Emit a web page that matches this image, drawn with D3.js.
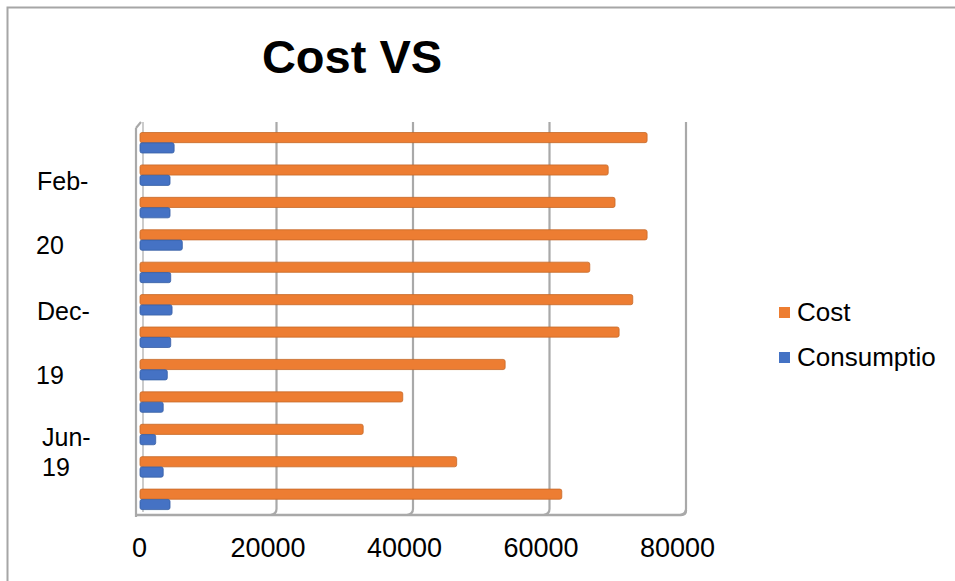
<!DOCTYPE html>
<html>
<head>
<meta charset="utf-8">
<script src="https://cdn.jsdelivr.net/npm/d3@7/dist/d3.min.js"></script>
<style>
  html, body { margin: 0; padding: 0; background: #fff; }
  svg { display: block; font-family: "Liberation Sans", Arial, sans-serif; }
</style>
</head>
<body>
<svg id="chart" width="955" height="581"></svg>
<script>
// Rows in chronological order (first row is drawn at the bottom)
const rowIndex = d3.range(12);
const costValues = [61800, 46400, 32700, 38500, 53500, 70200, 72200, 65900, 74300, 69600, 68600, 74300];
const consumptionValues = [4400, 3400, 2300, 3400, 4000, 4500, 4700, 4500, 6200, 4400, 4400, 5000];
const seriesNames = ["Cost", "Consumptio"];
const seriesColors = ["#ED7D31", "#4472C4"];
const xTicks = [0, 20000, 40000, 60000, 80000];
// Only some rows carry a (wrapped) label on the category axis
const rowLabels = [
  { row: 9, lines: ["Feb-", "20"] },
  { row: 5, lines: ["Dec-", "19"] },
  { row: 1, lines: ["Jun-", "19"] }
];
const chartTitle = "Cost VS";

const svg = d3.select("#chart");

// outer chart frame (top and left edges)
svg.append("path")
  .attr("d", "M7.5,581 V7.5 H955")
  .attr("fill", "none")
  .attr("stroke", "#a6a6a6")
  .attr("stroke-width", 2);

// title
svg.append("text")
  .attr("x", 352).attr("y", 73)
  .attr("text-anchor", "middle")
  .attr("font-size", 47)
  .attr("font-weight", "bold")
  .attr("fill", "#000")
  .text(chartTitle);

const plotTop = 124, plotBottom = 513;
const x = d3.scaleLinear().domain([0, 80000]).range([140, 686]);
const y = d3.scaleBand().domain(rowIndex).range([plotBottom, plotTop]).paddingInner(0).paddingOuter(0);
const ySub = d3.scaleBand().domain(seriesNames).range([8.5, 29]).paddingInner(0.02);

const floorY = 515;
const wallColor = "#a9a9a9";

// soft edge for gridlines, walls and bars
const defs = svg.append("defs");
const f = defs.append("filter").attr("id", "soft").attr("x", "-10%").attr("y", "-10%").attr("width", "120%").attr("height", "120%");
f.append("feGaussianBlur").attr("stdDeviation", 0.45);

const grid = svg.append("g").attr("filter", "url(#soft)");

// left side wall
grid.append("path")
  .attr("d", `M136,${plotTop + 4} L141,${plotTop - 2} M136,${plotTop + 4} V${floorY + 2}`)
  .attr("fill", "none").attr("stroke", wallColor).attr("stroke-width", 2.2);

// floor edge
grid.append("path")
  .attr("d", `M136,${floorY} H681 Q686,${floorY} 686,${floorY - 5}`)
  .attr("fill", "none").attr("stroke", wallColor).attr("stroke-width", 2.4);

// vertical gridlines bending into the floor
grid.selectAll("path.gl")
  .data(xTicks)
  .join("path")
  .attr("class", "gl")
  .attr("d", d => {
    const gx = x(d);
    if (d === 0) return `M${gx + 3},${plotTop - 2} V${floorY - 3}`;
    return `M${gx},${plotTop - 2} V${floorY - 6} Q${gx},${floorY - 1} ${gx - 6},${floorY}`;
  })
  .attr("fill", "none")
  .attr("stroke", wallColor)
  .attr("stroke-width", d => d === 0 ? 1.2 : 2.2);

// bars
const barsG = svg.append("g").attr("filter", "url(#soft)");
const rows = rowIndex.map(i => ({ i, values: [costValues[i], consumptionValues[i]] }));

barsG.selectAll("g.row")
  .data(rows)
  .join("g")
  .attr("class", "row")
  .attr("transform", d => `translate(0,${y(d.i)})`)
  .selectAll("rect")
  .data(d => d.values.map((v, k) => ({ k, v })))
  .join("rect")
  .attr("x", x(0))
  .attr("y", d => ySub(seriesNames[d.k]))
  .attr("width", d => x(d.v) - x(0))
  .attr("height", ySub.bandwidth())
  .attr("rx", 2)
  .attr("fill", d => seriesColors[d.k])
  .attr("stroke", d => d3.color(seriesColors[d.k]).darker(0.5))
  .attr("stroke-width", 0.8);

// x axis tick labels, set on the front edge of the floor
const xAxis = d3.axisBottom(x).tickValues(xTicks).tickFormat(d3.format("d")).tickSize(0).tickPadding(0);
const xg = svg.append("g").attr("transform", "translate(0,538)").call(xAxis);
xg.select(".domain").remove();
xg.selectAll("text")
  .attr("font-size", 27)
  .attr("font-family", "Liberation Sans, Arial, sans-serif")
  .attr("fill", "#000")
  .attr("dy", "0.72em")
  .attr("dx", d => d === 0 ? -1 : -9);

// category labels (wrapped over two lines)
const catG = svg.append("g");
rowLabels.forEach(lbl => {
  const cy = y(lbl.row) + y.bandwidth() / 2;
  const tight = lbl.row === 1;
  const offsets = tight ? [-27, 3] : [-24, 40];
  const xs = tight ? [42, 42] : [37, 36];
  lbl.lines.forEach((line, j) => {
    catG.append("text")
      .attr("x", xs[j])
      .attr("y", cy + offsets[j] + 9)
      .attr("font-size", 25)
      .attr("fill", "#000")
      .text(line);
  });
});

// legend
const legend = svg.append("g").attr("transform", "translate(779,307)");
seriesNames.forEach((name, k) => {
  const g = legend.append("g").attr("transform", `translate(0,${k * 45})`);
  g.append("rect").attr("width", 11).attr("height", 11).attr("fill", seriesColors[k]);
  g.append("text").attr("x", 18).attr("y", 14).attr("font-size", 26).attr("fill", "#000").text(name);
});
</script>
</body>
</html>
